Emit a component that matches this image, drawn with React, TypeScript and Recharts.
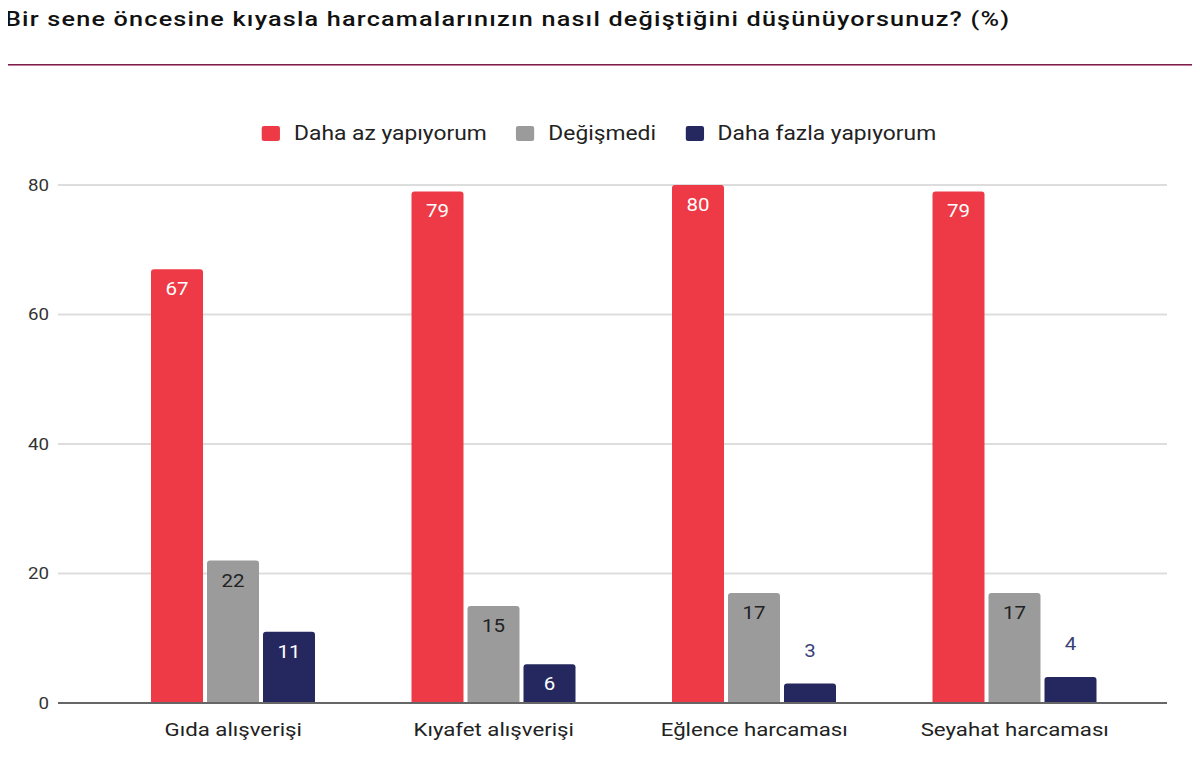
import React from 'react';
import { BarChart, Bar, XAxis, YAxis, CartesianGrid, Legend, LabelList } from 'recharts';

const categories = ['Gıda alışverişi', 'Kıyafet alışverişi', 'Eğlence harcaması', 'Seyahat harcaması'];
const dahaAz = [67, 79, 80, 79];
const degismedi = [22, 15, 17, 17];
const dahaFazla = [11, 6, 3, 4];
const yTicks = [0, 20, 40, 60, 80];

const seriesNames = ['Daha az yapıyorum', 'Değişmedi', 'Daha fazla yapıyorum'];
const colors = ['#EE3A46', '#9B9B9B', '#25275F'];

const data = categories.map((c, i) => ({
  name: c,
  a: dahaAz[i],
  b: degismedi[i],
  c: dahaFazla[i],
}));

const FONT = 'Roboto, "Noto Sans", sans-serif';
const STRETCH = 1.17;

const makeLabel = (insideColor: string, outsideColor: string) => (props: any) => {
  const { x, y, width, height, value } = props;
  const cx = x + width / 2;
  const inside = height >= 32;
  return (
    <g transform={`translate(${cx},${inside ? y + 20 : y - 33})`}>
      <text x={0} y={0} transform={`scale(${STRETCH},1)`} textAnchor="middle" dominantBaseline="central" fill={inside ? insideColor : outsideColor} fontSize={17.5} fontFamily={FONT}>
        {value}
      </text>
    </g>
  );
};

const XTick = (props: any) => {
  const { x, y, payload } = props;
  return (
    <g transform={`translate(${x},${y})`}>
      <text x={0} y={0} transform={`scale(${STRETCH},1)`} textAnchor="middle" dy="0.71em" fill="#222" fontSize={19} fontFamily={FONT}>
        {payload.value}
      </text>
    </g>
  );
};

const YTick = (props: any) => {
  const { x, y, payload } = props;
  return (
    <g transform={`translate(${x},${y})`}>
      <text x={0} y={0} transform={`scale(${STRETCH},1)`} textAnchor="end" dy="0.355em" fill="#333" fontSize={16} fontFamily={FONT}>
        {payload.value}
      </text>
    </g>
  );
};

const renderLegend = () => (
  <div style={{ display: 'flex', justifyContent: 'center', alignItems: 'center', fontFamily: FONT, fontSize: 20, color: '#222', transform: 'scaleX(1.14)', transformOrigin: '606px 50%' }}>
    {seriesNames.map((n, i) => (
      <div key={n} style={{ display: 'flex', alignItems: 'center', marginRight: i < 2 ? 26 : 0 }}>
        <span style={{ display: 'inline-block', width: 16, height: 15, background: colors[i], borderRadius: 2, marginRight: 12 }} />
        <span>{n}</span>
      </div>
    ))}
  </div>
);

export default function App() {
  return (
    <div style={{ position: 'relative', margin: -8, width: 1200, height: 767, background: '#fff', overflow: 'hidden' }}>
      <div style={{ position: 'absolute', left: 5, top: 7, fontFamily: FONT, fontWeight: 500, fontSize: 21, letterSpacing: 1, color: '#111', whiteSpace: 'nowrap', transform: 'scaleX(1.2)', transformOrigin: '0 50%' }}>
        Bir sene öncesine kıyasla harcamalarınızın nasıl değiştiğini düşünüyorsunuz? (%)
      </div>
      <div style={{ position: 'absolute', left: 0, top: 64, width: 1200, height: 1, background: '#7a1f48' }} />
      <div style={{ position: 'absolute', left: 0, top: 65, width: 1200, height: 1, background: '#c27a9a' }} />
      <div style={{ position: 'absolute', left: 0, top: 0 }}>
        <BarChart width={1200} height={767} data={data} margin={{ top: 185, right: 33, left: 8, bottom: 24 }} barGap={4} barCategoryGap={48}>
          <CartesianGrid vertical={false} stroke="#dddddd" strokeWidth={2} />
          <XAxis
            dataKey="name"
            axisLine={{ stroke: '#666', strokeWidth: 2 }}
            tickLine={false}
            tickMargin={14}
            height={40}
            padding={{ left: 45, right: 22 }}
            tick={<XTick />}
            interval={0}
          />
          <YAxis
            domain={[0, 80]}
            ticks={yTicks}
            axisLine={false}
            tickLine={false}
            width={50}
            tickMargin={3}
            tick={<YTick />}
          />
          <Legend verticalAlign="middle" align="center" content={renderLegend} wrapperStyle={{ position: 'absolute', top: 121, left: 0, width: 1200 }} />
          <Bar dataKey="a" name={seriesNames[0]} fill={colors[0]} radius={[3, 3, 0, 0]} isAnimationActive={false}>
            <LabelList dataKey="a" content={makeLabel('#fff', colors[0])} />
          </Bar>
          <Bar dataKey="b" name={seriesNames[1]} fill={colors[1]} radius={[3, 3, 0, 0]} isAnimationActive={false}>
            <LabelList dataKey="b" content={makeLabel('#222', '#222')} />
          </Bar>
          <Bar dataKey="c" name={seriesNames[2]} fill={colors[2]} radius={[3, 3, 0, 0]} isAnimationActive={false}>
            <LabelList dataKey="c" content={makeLabel('#fff', '#3B3F7A')} />
          </Bar>
        </BarChart>
      </div>
    </div>
  );
}
